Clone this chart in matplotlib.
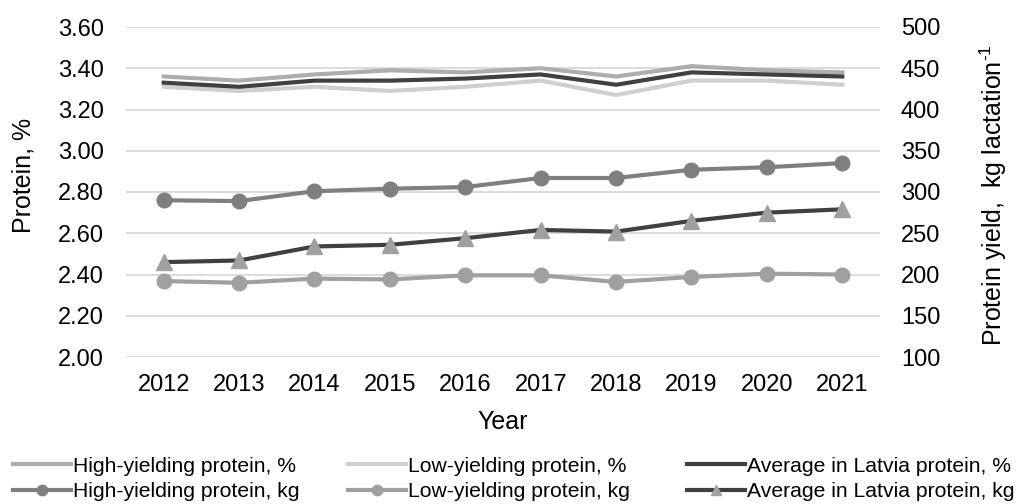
import matplotlib
matplotlib.use("Agg")
import matplotlib.pyplot as plt
from matplotlib.lines import Line2D

plt.rcParams['font.family'] = ['Liberation Sans', 'DejaVu Sans']
plt.rcParams['mathtext.fontset'] = 'custom'
plt.rcParams['mathtext.rm'] = 'Liberation Sans'

years = ['2012', '2013', '2014', '2015', '2016', '2017', '2018', '2019', '2020', '2021']
high_pct = [3.36, 3.34, 3.37, 3.39, 3.38, 3.40, 3.36, 3.41, 3.39, 3.38]
low_pct = [3.31, 3.29, 3.31, 3.29, 3.31, 3.34, 3.27, 3.34, 3.34, 3.32]
avg_pct = [3.33, 3.31, 3.34, 3.34, 3.35, 3.37, 3.32, 3.38, 3.37, 3.36]
high_kg = [290, 289, 301, 304, 306, 317, 317, 327, 330, 335]
low_kg = [192, 190, 195, 194, 199, 199, 191, 197, 201, 200]
avg_kg = [215, 217, 234, 236, 244, 254, 252, 265, 275, 279]

labels = ['High-yielding protein, %', 'Low-yielding protein, %', 'Average in Latvia protein, %',
          'High-yielding protein, kg', 'Low-yielding protein, kg', 'Average in Latvia protein, kg']

W, H = 1018, 504
fig = plt.figure(figsize=(W/100, H/100), dpi=100)
ax = fig.add_axes([126/W, 1-357/H, (880-126)/W, (357-27)/H])
ax2 = ax.twinx()

x = list(range(len(years)))
c_high = '#ADADAD'
c_low = '#CFCFCF'
c_avg = '#404040'
c_hkg = '#7F7F7F'
c_lkg = '#A0A0A0'

ax.set_ylim(2.0, 3.6)
ax.set_yticks([2.0 + 0.2*i for i in range(9)])
ax.set_yticklabels([f'{2.0 + 0.2*i:.2f}' for i in range(9)])
ax.set_xlim(-0.5, len(years)-0.5)
ax.set_xticks(x)
ax.set_xticklabels(years)
ax.grid(axis='y', color='#D9D9D9', lw=1.3)
ax.set_axisbelow(True)

ax2.set_ylim(100, 500)
ax2.set_yticks(range(100, 501, 50))

l1, = ax.plot(x, high_pct, color=c_high, lw=3, zorder=3)
l2, = ax.plot(x, low_pct, color=c_low, lw=3, zorder=3)
l3, = ax.plot(x, avg_pct, color=c_avg, lw=3, zorder=4)
l4, = ax2.plot(x, high_kg, color=c_hkg, lw=3, marker='o', ms=10.5, mfc=c_hkg, mec=c_hkg)
l5, = ax2.plot(x, low_kg, color=c_lkg, lw=3, marker='o', ms=10.5, mfc=c_lkg, mec=c_lkg)
l6, = ax2.plot(x, avg_kg, color=c_avg, lw=3, marker='^', ms=11, mfc=c_lkg, mec=c_lkg)

for a in (ax, ax2):
    for s in a.spines.values():
        s.set_visible(False)
    a.tick_params(length=0, labelsize=17, colors='#000000')
ax.tick_params(axis='x', pad=12)
ax.tick_params(axis='y', pad=16)
ax2.tick_params(axis='y', pad=15)

fig.text(503/W, 1-422/H, 'Year', fontsize=18, ha='center', va='center')
fig.text(23/W, 1-175/H, 'Protein, %', fontsize=18, ha='center', va='center', rotation=90)
fig.text(993/W, 1-195/H, 'Protein yield,  kg lactation$^{\\mathregular{‐1}}$', fontsize=18,
         ha='center', va='center', rotation=90)

def mk(h):
    return Line2D([], [], color=h.get_color(), lw=3, marker=h.get_marker(),
                  ms=7.5, mfc=h.get_markerfacecolor(), mec=h.get_markeredgecolor())

cols = [((l1, l4), (labels[0], labels[3]), 13),
        ((l2, l5), (labels[1], labels[4]), 348),
        ((l3, l6), (labels[2], labels[5]), 687)]
for hs, ls, x0 in cols:
    lg = fig.legend([mk(h) for h in hs], list(ls), loc='center left',
                    bbox_to_anchor=(x0/W, 1-479/H), frameon=False, fontsize=15.2,
                    handlelength=2.75, handletextpad=0.08, labelspacing=0.32,
                    borderpad=0, borderaxespad=0)

fig.savefig('out.png', dpi=100)
